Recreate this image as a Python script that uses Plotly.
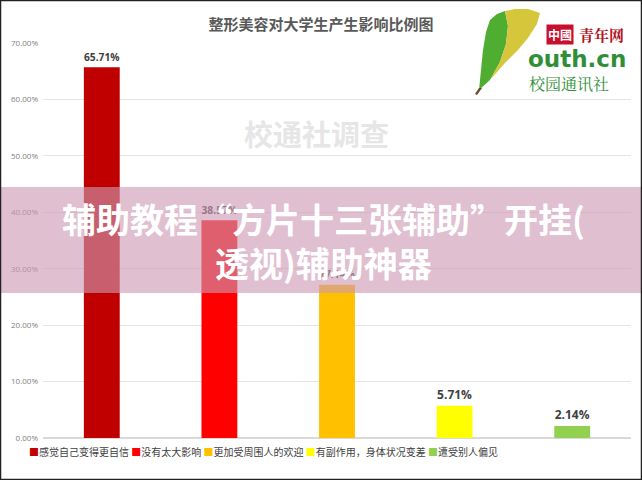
import plotly.graph_objects as go

categories = ["感觉自己变得更自信", "没有太大影响", "更加受周围人的欢迎", "有副作用，身体状况变差", "遭受别人偏见"]
values = [65.71, 38.57, 27.14, 5.71, 2.14]
colors = ["#C00000", "#FF0000", "#FFC000", "#FFFF00", "#92D050"]
title_text = "整形美容对大学生产生影响比例图"
watermark_text = "校通社调查"
banner_lines = ["辅助教程“方片十三张辅助”开挂(", "透视)辅助神器"]

W, H = 642, 480
L, R, T, B = 43, 11, 43, 42
PW, PH = W - L - R, H - T - B


def px(x):
    return (x - L) / PW


def py(y):
    return (H - B - y) / PH


FONT = "Open Sans, Noto Sans CJK SC, sans-serif"
CJK = "Noto Sans CJK SC, sans-serif"

fig = go.Figure()
for c, v, col in zip(categories, values, colors):
    fig.add_trace(go.Bar(
        x=[c], y=[v], name=c, marker=dict(color=col, line=dict(width=0)),
        width=0.305, texttemplate="%{y:.2f}%", textposition="outside",
        textfont=dict(family=FONT, size=12, color="#404040", weight="bold"),
        cliponaxis=False, showlegend=False,
    ))

fig.update_layout(
    width=W, height=H, margin=dict(l=L, r=R, t=T, b=B),
    paper_bgcolor="white", plot_bgcolor="white", barmode="overlay",
    title=dict(text=title_text, x=0.5, xref="container", xanchor="center",
               y=1 - 25 / H, yanchor="middle",
               font=dict(family=CJK, size=15, color="#595959", weight="bold")),
    xaxis=dict(type="category", categoryorder="array", categoryarray=categories,
               showticklabels=False, showgrid=False, zeroline=False, showline=False,
               range=[-0.5, 4.5]),
    yaxis=dict(range=[0, 70], dtick=10, tickformat=".2f", ticksuffix="%",
               tickfont=dict(family=FONT, size=8, color="#808080"),
               showgrid=True, gridcolor="#e4e4e4", gridwidth=1, zeroline=True,
               zerolinecolor="#d9d9d9", showline=False, ticklabelstandoff=4),
    showlegend=False,
)

# watermark
fig.add_annotation(text=watermark_text, xref="paper", yref="paper", x=px(316), y=py(133),
                   xanchor="center", yanchor="middle", showarrow=False,
                   font=dict(family=CJK, size=29, color="#e6e6e6", weight="bold"))

# custom legend
legend_html = " ".join(
    f"<span style='color:{col}'>■</span>{c}" for c, col in zip(categories, colors))
fig.add_annotation(text=legend_html, xref="paper", yref="paper", x=px(27), y=py(451),
                   xanchor="left", yanchor="middle", showarrow=False,
                   font=dict(family=CJK, size=10, color="#404040"))

# logo: leaf
def path(points):
    d = "M " + " L ".join(f"{px(a):.4f},{py(b):.4f}" for a, b in points) + " Z"
    return d

leaf_green = [(479, 90), (481, 70), (483, 50), (486, 32), (490, 20), (497, 14), (505, 11),
              (508, 26), (506, 44), (500, 62), (490, 80)]
leaf_yellow = [(505, 11), (515, 9), (528, 9), (540, 13), (537, 24), (528, 38), (518, 50),
               (505, 63), (490, 80), (500, 62), (506, 44), (508, 26)]
fig.add_shape(type="path", path=path(leaf_green), xref="paper", yref="paper",
              fillcolor="#4fae32", line=dict(width=0), layer="above")
fig.add_shape(type="path", path=path(leaf_yellow), xref="paper", yref="paper",
              fillcolor="#d6c63c", line=dict(width=0), layer="above")
fig.add_shape(type="path", path=path([(479, 88), (475, 94), (477, 95), (482, 88)]),
              xref="paper", yref="paper", fillcolor="#6b4a2a", line=dict(width=0), layer="above")

fig.add_annotation(text="<b>中國</b>", xref="paper", yref="paper", x=px(546), y=py(34),
                   xanchor="left", yanchor="middle", showarrow=False, bgcolor="#c8102e",
                   borderpad=1, font=dict(family=CJK, size=12, color="white"))
fig.add_annotation(text="<b>青年网</b>", xref="paper", yref="paper", x=px(577), y=py(34),
                   xanchor="left", yanchor="middle", showarrow=False,
                   font=dict(family="Noto Serif CJK SC, Noto Sans CJK SC, serif", size=15, color="#b5121b"))
fig.add_annotation(text="<b>outh.cn</b>", xref="paper", yref="paper", x=px(526), y=py(59),
                   xanchor="left", yanchor="middle", showarrow=False,
                   font=dict(family="DejaVu Sans, sans-serif", size=23, color="#2f8f36"))
fig.add_annotation(text="校园通讯社", xref="paper", yref="paper", x=px(527), y=py(83),
                   xanchor="left", yanchor="middle", showarrow=False,
                   font=dict(family="Noto Serif CJK SC, Noto Sans CJK SC, serif", size=16, color="#2f8f36"))

# overlay banner
fig.add_shape(type="rect", xref="paper", yref="paper", x0=px(0), x1=px(W), y0=py(293), y1=py(187),
              fillcolor="rgba(205,153,179,0.62)", line=dict(width=0), layer="above")
fig.add_annotation(text="<br>".join(banner_lines), xref="paper", yref="paper", x=px(323), y=py(240),
                   xanchor="center", yanchor="middle", align="center", showarrow=False,
                   font=dict(family=CJK, size=34, color="white", weight="bold"))

# outer border
fig.add_shape(type="rect", xref="paper", yref="paper", x0=px(0.5), x1=px(W - 0.5),
              y0=py(H - 0.5), y1=py(0.5), line=dict(color="#222222", width=1.5),
              fillcolor="rgba(0,0,0,0)", layer="above")

fig.write_html("out.html")
